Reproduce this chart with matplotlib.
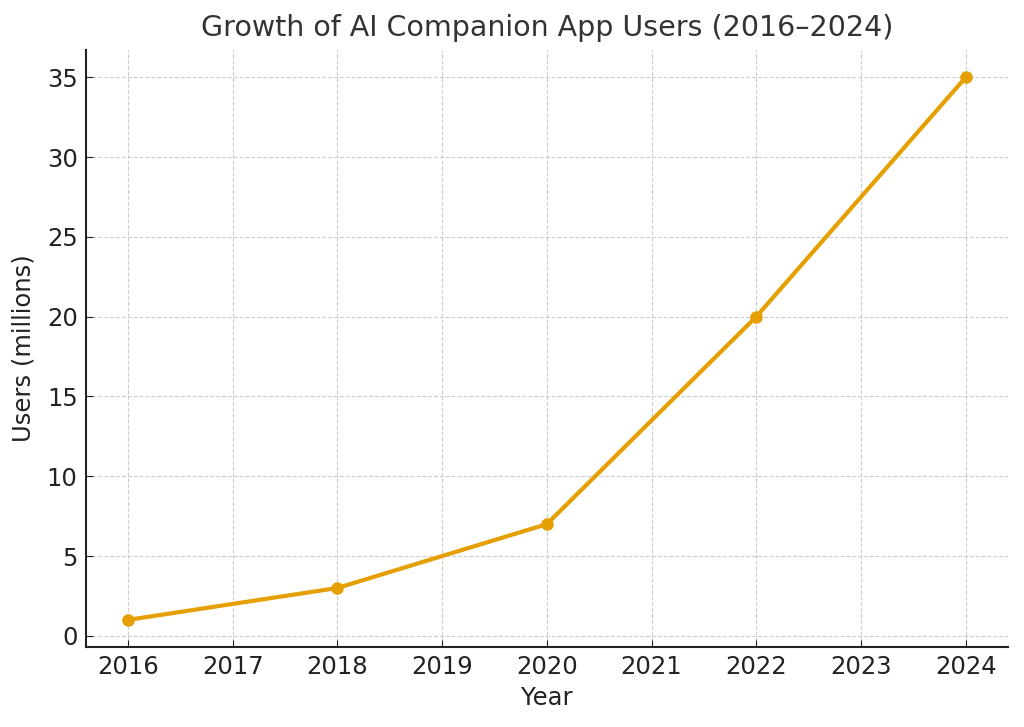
import numpy as np
import matplotlib.pyplot as plt

years = [2016, 2018, 2020, 2022, 2024]
users = [1, 3, 7, 20, 35]
xticks = list(range(2016, 2025))

LINE_COLOR = '#E69F00'
TEXT_COLOR = '#333333'

fig, ax = plt.subplots(figsize=(10.24, 7.27), dpi=100)
fig.subplots_adjust(left=0.084, right=0.984, top=0.931, bottom=0.110)

ax.plot(years, users, color=LINE_COLOR, linewidth=3, marker='o', markersize=8)

ax.set_xticks(xticks)
ax.grid(True, linestyle='--', color='#cccccc', linewidth=0.8)
ax.spines['top'].set_visible(False)
ax.spines['right'].set_visible(False)
ax.spines['left'].set_linewidth(1.5)
ax.spines['bottom'].set_linewidth(1.5)
ax.spines['left'].set_color('#222222')
ax.spines['bottom'].set_color('#222222')
ax.tick_params(axis='both', direction='in', labelsize=17.5, colors='#222222', length=5, pad=6)

ax.set_title('Growth of AI Companion App Users (2016\u20132024)', fontsize=20.5, color=TEXT_COLOR, pad=10)
ax.set_xlabel('Year', fontsize=17.5, color='#222222', labelpad=5)
ax.set_ylabel('Users (millions)', fontsize=17.5, color='#222222', labelpad=8)

plt.savefig('out.png', dpi=100)
